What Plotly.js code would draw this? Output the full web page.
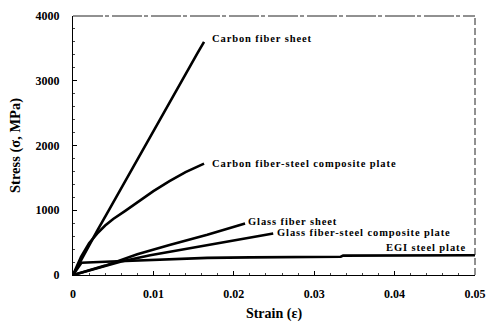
<!DOCTYPE html>
<html>
<head>
<meta charset="utf-8">
<script src="https://cdn.plot.ly/plotly-3.0.1.min.js"></script>
<style>
html,body{margin:0;padding:0;background:#fff}
#chart{width:490px;height:322px}
.annotation-text{letter-spacing:0.9px}
</style>
</head>
<body>
<div id="chart"></div>
<script>
// Series names (used as labels)
const seriesNames = [
  "Carbon fiber sheet",
  "Carbon fiber-steel composite plate",
  "Glass fiber sheet",
  "Glass fiber-steel composite plate",
  "EGI steel plate"
];

// Carbon fiber sheet
const carbonSheetStrain = [0, 0.001, 0.003, 0.0045, 0.006, 0.0082, 0.010, 0.012, 0.014, 0.0155, 0.0163];
const carbonSheetStress = [0, 230, 680, 1010, 1340, 1840, 2240, 2670, 3110, 3430, 3600];

// Carbon fiber-steel composite plate
const carbonCompStrain = [0, 0.001, 0.002, 0.003, 0.004, 0.005, 0.0065, 0.008, 0.010, 0.012, 0.014, 0.0163];
const carbonCompStress = [0, 280, 490, 640, 765, 865, 990, 1120, 1295, 1450, 1590, 1720];

// Glass fiber sheet
const glassSheetStrain = [0, 0.002, 0.004, 0.008, 0.012, 0.0167, 0.0214];
const glassSheetStress = [0, 70, 145, 320, 465, 620, 795];

// Glass fiber-steel composite plate
const glassCompStrain = [0, 0.002, 0.004, 0.006, 0.0096, 0.013, 0.0167, 0.021, 0.0249];
const glassCompStress = [0, 70, 140, 210, 305, 380, 460, 560, 641];

// EGI steel plate
const egiStrain = [0, 0.00105, 0.004, 0.008, 0.012, 0.0167, 0.022, 0.028, 0.0333, 0.0336, 0.04, 0.05];
const egiStress = [0, 190, 205, 225, 245, 265, 272, 278, 282, 300, 303, 305];

// Axis ticks
const xTickVals = [0, 0.01, 0.02, 0.03, 0.04, 0.05];
const xTickText = ["0", "0.01", "0.02", "0.03", "0.04", "0.05"];
const yTickVals = [0, 1000, 2000, 3000, 4000];
const yTickText = ["0", "1000", "2000", "3000", "4000"];

const xs = [carbonSheetStrain, carbonCompStrain, glassSheetStrain, glassCompStrain, egiStrain];
const ys = [carbonSheetStress, carbonCompStress, glassSheetStress, glassCompStress, egiStress];

const traces = xs.map((x, i) => ({
  x: x, y: ys[i], name: seriesNames[i], type: "scatter", mode: "lines",
  line: {color: "#000", width: 2.6}, hoverinfo: "skip"
}));

// label centre positions (data coords)
const labelPos = [[0.02345, 3657], [0.02873, 1728], [0.02730, 833], [0.03619, 664], [0.04385, 432]];

const serif = "Liberation Serif, Times New Roman, serif";
const annotations = seriesNames.map((t, i) => ({
  x: labelPos[i][0], y: labelPos[i][1], xref: "x", yref: "y",
  text: "<b>" + t + "</b>", showarrow: false, xanchor: "center", yanchor: "middle",
  font: {family: serif, size: 10.5, color: "#000"}
}));

const layout = {
  width: 490, height: 322,
  margin: {l: 73, r: 15, t: 16, b: 47},
  paper_bgcolor: "#fff", plot_bgcolor: "#fff",
  showlegend: false,
  font: {family: serif, color: "#000"},
  xaxis: {
    range: [0, 0.05], tickvals: xTickVals, ticktext: xTickText,
    ticks: "inside", ticklen: 4, tickwidth: 1, tickcolor: "#000",
    minor: {dtick: 0.002, ticks: "inside", ticklen: 2, tickcolor: "#444"},
    showgrid: false, zeroline: false, showline: true, linecolor: "#000", linewidth: 1,
    tickfont: {family: serif, size: 12, color: "#000", weight: "bold"},
    ticklabelstandoff: 8,
    title: {text: "<b>Strain (ε)</b>", font: {family: serif, size: 14, color: "#000"}, standoff: 7}
  },
  yaxis: {
    range: [0, 4000], tickvals: yTickVals, ticktext: yTickText,
    ticks: "inside", ticklen: 4, tickwidth: 1, tickcolor: "#000",
    minor: {dtick: 200, ticks: "inside", ticklen: 2, tickcolor: "#444"},
    showgrid: false, zeroline: false, showline: true, linecolor: "#000", linewidth: 1,
    tickfont: {family: serif, size: 12, color: "#000", weight: "bold"},
    ticklabelstandoff: 10,
    title: {text: "<b>Stress (σ, MPa)</b>", font: {family: serif, size: 14.5, color: "#000"}, standoff: 11}
  },
  shapes: [
    {type: "line", xref: "paper", yref: "paper", x0: 0, x1: 1, y0: 1, y1: 1,
     line: {color: "#222", width: 1, dash: "30px,2px,4px,3px"}},
    {type: "line", xref: "paper", yref: "paper", x0: 1, x1: 1, y0: 0, y1: 1,
     line: {color: "#222", width: 1, dash: "7px,3px"}}
  ],
  annotations: annotations
};

Plotly.newPlot("chart", traces, layout, {staticPlot: true, displayModeBar: false});
</script>
</body>
</html>
